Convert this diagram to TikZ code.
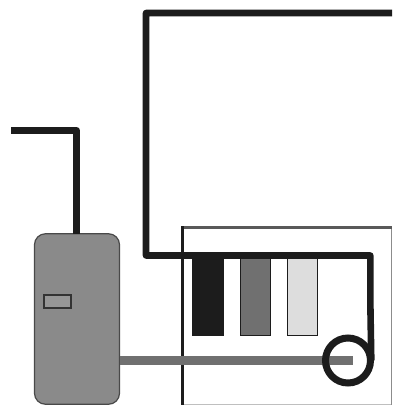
\documentclass[tikz,border=0pt]{standalone}
\definecolor{ink}{HTML}{1C1C1C}
\definecolor{tankgrey}{HTML}{8A8A8A}
\definecolor{midgrey}{HTML}{707070}
\definecolor{pale}{HTML}{DDDDDD}
\begin{document}
\begin{tikzpicture}[x=1pt,y=-1pt,
  pipe/.style={draw=ink,line width=6.6pt,line join=round},
  bar/.style={draw=ink,line width=1pt,inner sep=0pt,outer sep=0pt}]
\useasboundingbox (0,0) rectangle (392,405);
\fill[white] (0,0) rectangle (392,405);
% frame
\draw[black!25,line width=1pt] (182,404.5) -- (392,404.5);
\draw[black!45,line width=1.2pt] (391.4,227) -- (391.4,405);
\draw[black!65,line width=3pt] (182,227.5) -- (392,227.5);
\draw[ink,line width=3pt] (182,405) -- (182,226);
% tank
\node[draw=ink!80,line width=1.2pt,fill=tankgrey,rounded corners=11pt,inner sep=0pt,outer sep=0pt,
      minimum width=85pt,minimum height=170.5pt] (tank) at (77,319) {};
\node[draw=ink!90,line width=1.6pt,fill=tankgrey!90!white,inner sep=0pt,minimum width=26.5pt,minimum height=12.5pt] (gauge) at (57.5,301.5) {};
% upper pipes
\coordinate (inA) at (11,130.5);
\coordinate (inB) at (76.7,130.5);
\draw[pipe] (inA) -- (inB) -- (tank.north -| inB);
% bars
\node[bar,fill=ink,minimum width=31pt,minimum height=80pt] (b1) at (207.5,295) {};
\node[bar,fill=midgrey,minimum width=30pt,minimum height=80pt] (b2) at (255,295) {};
\node[bar,fill=pale,minimum width=30pt,minimum height=80pt] (b3) at (302,295) {};
% pump
\node[circle,draw=none,minimum size=45pt,inner sep=0pt,outer sep=0pt] (pump) at (348,360.5) {};
\coordinate (end) at (352.5,360.5);
\draw[midgrey,line width=9pt] (tank.east |- end) -- (end);
\draw[ink,line width=7pt] (pump) circle (22.5pt);
% loop
\coordinate (a) at (392,13);
\coordinate (b) at (146,13);
\coordinate (c) at (146,255.5);
\coordinate (d) at (370.3,255.5);
\coordinate (e) at (370.3,300);
\coordinate (f) at (371.3,360.5);
\draw[pipe] (a) -- (b) -- (c) -- (d) -- (e) -- (f);
\end{tikzpicture}
\end{document}
